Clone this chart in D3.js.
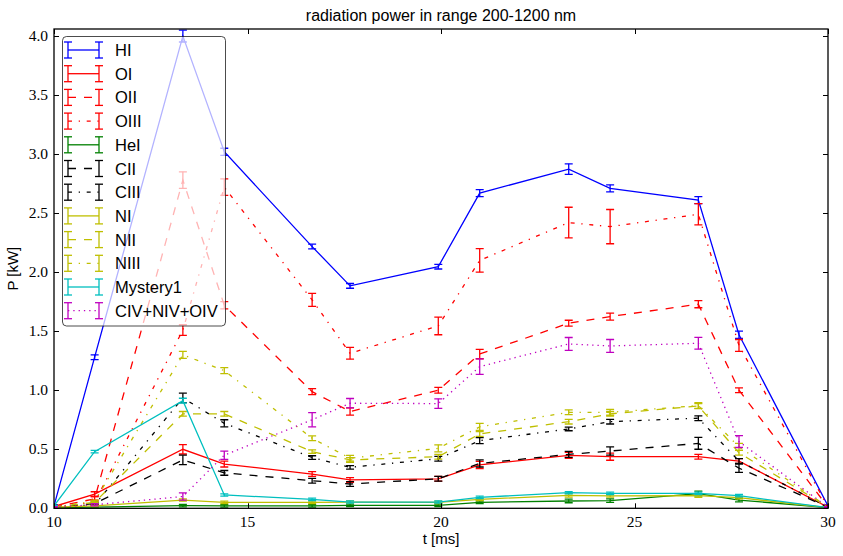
<!DOCTYPE html>
<html><head><meta charset="utf-8">
<script src="https://cdn.jsdelivr.net/npm/d3@7"></script>
<style>body{margin:0;background:#fff}svg{display:block}</style>
</head><body><svg id="c" width="843" height="556"></svg>
<script>
const times = [10, 11.05, 13.33, 14.4, 16.67, 17.65, 19.93, 21.0, 23.3, 24.37, 26.65, 27.7, 30];
const names = ["HI","OI","OII","OIII","HeI","CII","CIII","NI","NII","NIII","Mystery1","CIV+NIV+OIV"];
const colors = ["#0000ff","#ff0000","#ff0000","#ff0000","#008000","#000000","#000000","#bfbf00","#bfbf00","#bfbf00","#00bfbf","#bf00bf"];
const styles = ["solid","solid","dashed","dashdot","solid","dashed","dashdot","solid","dashed","dashdot","solid","dotted"];
const HI   = [0.02, 1.28, 4.0, 3.02, 2.217, 1.884, 2.047, 2.67, 2.873, 2.71, 2.61, 1.47, 0.02];
const HIe  = [0.01, 0.02, 0.05, 0.03, 0.02, 0.02, 0.02, 0.03, 0.045, 0.03, 0.03, 0.03, 0.01];
const OI   = [0.015, 0.12, 0.50, 0.375, 0.29, 0.24, 0.25, 0.367, 0.449, 0.437, 0.437, 0.40, 0.01];
const OIe  = [0.01, 0.02, 0.04, 0.025, 0.02, 0.02, 0.02, 0.03, 0.025, 0.03, 0.02, 0.02, 0.01];
const OII  = [0.01, 0.08, 2.78, 1.72, 0.988, 0.82, 1.0, 1.307, 1.568, 1.624, 1.729, 1.0, 0.01];
const OIIe = [0.01, 0.02, 0.07, 0.03, 0.025, 0.03, 0.025, 0.04, 0.025, 0.03, 0.03, 0.02, 0.01];
const OIII = [0.01, 0.05, 1.51, 2.72, 1.765, 1.313, 1.545, 2.1, 2.42, 2.386, 2.49, 1.38, 0.01];
const OIIIe= [0.01, 0.02, 0.045, 0.07, 0.055, 0.05, 0.075, 0.1, 0.13, 0.145, 0.09, 0.05, 0.01];
const HeI  = [0.005, 0.01, 0.022, 0.02, 0.02, 0.025, 0.025, 0.05, 0.062, 0.065, 0.125, 0.07, 0.005];
const HeIe = [0.005, 0.005, 0.01, 0.01, 0.01, 0.01, 0.01, 0.01, 0.015, 0.015, 0.02, 0.015, 0.005];
const CII  = [0.01, 0.04, 0.41, 0.30, 0.234, 0.206, 0.25, 0.38, 0.457, 0.485, 0.55, 0.34, 0.01];
const CIIe = [0.005, 0.01, 0.04, 0.02, 0.02, 0.02, 0.02, 0.03, 0.025, 0.035, 0.05, 0.035, 0.005];
const CIII = [0.01, 0.03, 0.935, 0.72, 0.43, 0.347, 0.42, 0.573, 0.672, 0.734, 0.763, 0.40, 0.01];
const CIIIe= [0.005, 0.01, 0.04, 0.03, 0.015, 0.015, 0.02, 0.025, 0.015, 0.02, 0.02, 0.02, 0.005];
const NI   = [0.01, 0.02, 0.07, 0.05, 0.05, 0.053, 0.05, 0.076, 0.11, 0.105, 0.107, 0.09, 0.005];
const NIe  = [0.005, 0.005, 0.01, 0.01, 0.01, 0.01, 0.01, 0.01, 0.015, 0.01, 0.015, 0.01, 0.005];
const NII  = [0.01, 0.05, 0.80, 0.80, 0.48, 0.41, 0.437, 0.63, 0.734, 0.80, 0.867, 0.47, 0.01];
const NIIe = [0.005, 0.01, 0.02, 0.02, 0.015, 0.02, 0.02, 0.02, 0.02, 0.02, 0.02, 0.02, 0.005];
const NIII = [0.01, 0.06, 1.30, 1.166, 0.593, 0.424, 0.508, 0.69, 0.813, 0.813, 0.87, 0.52, 0.01];
const NIIIe= [0.005, 0.01, 0.03, 0.025, 0.02, 0.025, 0.03, 0.03, 0.02, 0.025, 0.025, 0.03, 0.005];
const Mys  = [0.02, 0.48, 0.912, 0.113, 0.076, 0.053, 0.053, 0.093, 0.132, 0.127, 0.127, 0.107, 0.005];
const Myse = [0.005, 0.01, 0.02, 0.01, 0.01, 0.01, 0.01, 0.01, 0.01, 0.01, 0.01, 0.01, 0.005];
const CIV  = [0.01, 0.03, 0.10, 0.45, 0.75, 0.89, 0.887, 1.2, 1.392, 1.375, 1.398, 0.565, 0.01];
const CIVe = [0.005, 0.01, 0.03, 0.035, 0.06, 0.04, 0.04, 0.066, 0.055, 0.055, 0.05, 0.05, 0.005];
const seriesVals = [HI, OI, OII, OIII, HeI, CII, CIII, NI, NII, NIII, Mys, CIV];
const seriesErrs = [HIe, OIe, OIIe, OIIIe, HeIe, CIIe, CIIIe, NIe, NIIe, NIIIe, Myse, CIVe];
const xTicks = [10, 15, 20, 25, 30];
const yTicks = [0, 0.5, 1.0, 1.5, 2.0, 2.5, 3.0, 3.5, 4.0];
const title = "radiation power in range 200-1200 nm";
const xLabel = "t [ms]", yLabel = "P [kW]";

const L = 54, R = 828, T = 29, B = 508.3;
const x = d3.scaleLinear().domain([10, 30]).range([L, R]);
const y = d3.scaleLinear().domain([0, 4.06]).range([B, T]);
const dash = {solid: null, dashed: "8,8", dashdot: "4,6.7,1.3,6.7", dotted: "1.3,4"};
const svg = d3.select("#c");
const sans = "'Liberation Sans', Arial, sans-serif";
const serif = "'Liberation Serif', 'DejaVu Serif', serif";
const LW = 1.3;

svg.append("defs").append("clipPath").attr("id", "clip")
  .append("rect").attr("x", L).attr("y", T).attr("width", R - L).attr("height", B - T);

const plot = svg.append("g").attr("clip-path", "url(#clip)");
const line = d3.line().x(d => x(d[0])).y(d => y(d[1]));
seriesVals.forEach((vals, i) => {
  const g = plot.append("g");
  const pts = times.map((t, j) => [t, vals[j], seriesErrs[i][j]]);
  g.append("path").attr("d", line(pts)).attr("fill", "none")
    .attr("stroke", colors[i]).attr("stroke-width", LW)
    .attr("stroke-dasharray", dash[styles[i]]);
  pts.forEach(p => {
    const cx = x(p[0]), y1 = y(p[1] - p[2]), y2 = y(p[1] + p[2]);
    g.append("line").attr("x1", cx).attr("x2", cx).attr("y1", y1).attr("y2", y2)
      .attr("stroke", colors[i]).attr("stroke-width", LW);
    [y1, y2].forEach(yy => g.append("line").attr("x1", cx - 4).attr("x2", cx + 4)
      .attr("y1", yy).attr("y2", yy).attr("stroke", colors[i]).attr("stroke-width", LW));
  });
});

// axes frame
svg.append("rect").attr("x", L).attr("y", T).attr("width", R - L).attr("height", B - T)
  .attr("fill", "none").attr("stroke", "#000").attr("stroke-width", 1.3);

// ticks (inward, all sides)
const tg = svg.append("g").attr("stroke", "#000").attr("stroke-width", 1);
xTicks.forEach(t => {
  const px = Math.round(x(t)) + 0.5;
  tg.append("line").attr("x1", px).attr("x2", px).attr("y1", B).attr("y2", B - 5);
  tg.append("line").attr("x1", px).attr("x2", px).attr("y1", T).attr("y2", T + 5);
});
yTicks.forEach(v => {
  const py = Math.round(y(v)) + 0.5;
  tg.append("line").attr("x1", L).attr("x2", L + 5).attr("y1", py).attr("y2", py);
  tg.append("line").attr("x1", R).attr("x2", R - 5).attr("y1", py).attr("y2", py);
});
const xa = svg.append("g").attr("font-family", serif).attr("font-size", 15.5).attr("fill", "#000");
xTicks.forEach(t => xa.append("text").attr("x", x(t)).attr("y", B + 19)
  .attr("text-anchor", "middle").text(d3.format("d")(t)));
yTicks.forEach(v => xa.append("text").attr("x", L - 6).attr("y", y(v) + 5)
  .attr("text-anchor", "end").text(d3.format(".1f")(v)));

svg.append("text").attr("x", (L + R) / 2).attr("y", 21).attr("text-anchor", "middle")
  .attr("font-family", sans).attr("font-size", 16).text(title);
svg.append("text").attr("x", (L + R) / 2).attr("y", 544).attr("text-anchor", "middle")
  .attr("font-family", sans).attr("font-size", 15).text(xLabel);
svg.append("text").attr("transform", `translate(18,${(T + B) / 2}) rotate(-90)`)
  .attr("text-anchor", "middle").attr("font-family", sans).attr("font-size", 15).text(yLabel);

// legend
const lg = svg.append("g");
lg.append("rect").attr("x", 62.5).attr("y", 36.5).attr("width", 163).attr("height", 289.5)
  .attr("rx", 4).attr("fill", "#fff").attr("fill-opacity", 0.7)
  .attr("stroke", "#000").attr("stroke-opacity", 0.7).attr("stroke-width", 1);
names.forEach((n, i) => {
  const cy = 50 + i * 23.7;
  const x0 = 68, x1 = 99;
  lg.append("line").attr("x1", x0).attr("x2", x1).attr("y1", cy).attr("y2", cy)
    .attr("stroke", colors[i]).attr("stroke-width", LW).attr("stroke-dasharray", dash[styles[i]]);
  [x0, x1].forEach(hx => {
    lg.append("line").attr("x1", hx).attr("x2", hx).attr("y1", cy - 8).attr("y2", cy + 8)
      .attr("stroke", colors[i]).attr("stroke-width", LW);
    [cy - 8, cy + 8].forEach(yy => lg.append("line").attr("x1", hx - 4).attr("x2", hx + 4)
      .attr("y1", yy).attr("y2", yy).attr("stroke", colors[i]).attr("stroke-width", LW));
  });
  lg.append("text").attr("x", 115).attr("y", cy + 6).attr("font-family", sans)
    .attr("font-size", 16.5).text(n);
});
</script></body></html>
